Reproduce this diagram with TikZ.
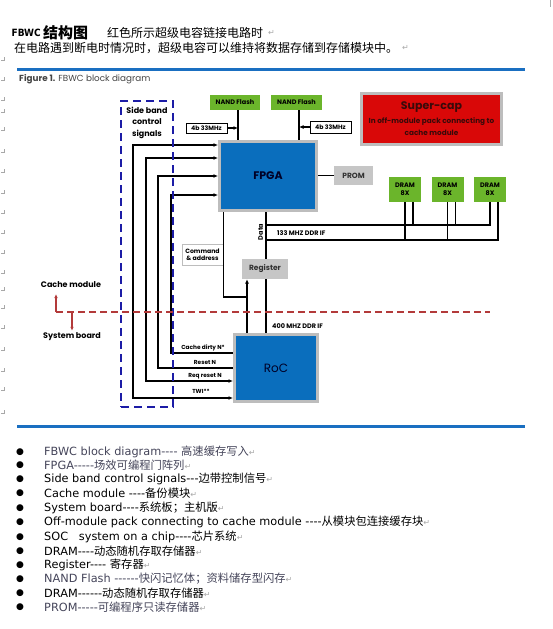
\documentclass[tikz,border=0pt]{standalone}
\usepackage{fontspec}
\setmainfont{DejaVu Sans}
\newfontfamily\cjk{Noto Sans CJK SC}
\newfontfamily\fut{Poppins}
\newfontfamily\dvc{DejaVu Sans Condensed}
\usetikzlibrary{arrows.meta}
\definecolor{ruleblue}{HTML}{1A6FC1}
\definecolor{fpgablue}{HTML}{0A6EBD}
\definecolor{bordergray}{HTML}{BDBDBD}
\definecolor{boxgray}{HTML}{C6C6C6}
\definecolor{nandgreen}{HTML}{6BB52B}
\definecolor{capred}{HTML}{D90808}
\definecolor{sbblue}{HTML}{1C1CA6}
\definecolor{dashred}{HTML}{B33A3A}
\definecolor{listgray}{HTML}{45455A}
\definecolor{markgray}{HTML}{A8A8A8}
\definecolor{captxt}{HTML}{444444}
\definecolor{captext}{HTML}{3A0A0A}
\newcommand\zh[1]{{\cjk #1}}
\newcommand\ret{{\fontsize{8}{8}\selectfont\color{markgray}↵}}
\newcommand\hy{{-}}
\begin{document}
\begin{tikzpicture}[x=1pt,y=-1pt,
  >={Latex[length=4.5pt,width=4pt]},
  lbl/.style={font=\fut\bfseries\fontsize{6.5}{7.5}\selectfont, inner sep=0pt, text=black},
  chip/.style={draw=bordergray, line width=3pt, fill=fpgablue, inner sep=0pt},
  greenbox/.style={fill=nandgreen, inner sep=0pt, align=center, font=\fut\bfseries\fontsize{6.5}{7.5}\selectfont},
  graybox/.style={fill=boxgray, inner sep=0pt, font=\fut\bfseries\fontsize{7.5}{8}\selectfont, text=black!80},
  wbox/.style={draw=black, line width=0.8pt, fill=white, inner sep=0pt, font=\fut\bfseries\fontsize{6.2}{7}\selectfont},
  wire/.style={line width=1.3pt, black},
  sbframe/.style={draw=sbblue, line width=2.4pt, dash pattern=on 8pt off 5pt, inner sep=0pt},
  reddash/.style={draw=dashred, line width=1.6pt, dash pattern=on 7pt off 4pt},
  redarrow/.style={draw=dashred, line width=1.2pt, -{Latex[length=4pt,width=3.5pt]}},
  siglbl/.style={font=\fut\bfseries\fontsize{5.8}{6.5}\selectfont, inner sep=0pt},
  side/.style={font=\fut\bfseries\fontsize{8}{8}\selectfont, inner sep=0pt},
  rulebar/.style={draw=ruleblue, line width=3pt},
  listtxt/.style={anchor=west, inner sep=0pt, font=\fontsize{11.3}{12}\selectfont},
  bul/.style={inner sep=0pt, font=\fontsize{9}{9}\selectfont},
  wmark/.style={draw=markgray, line width=0.6pt}
]
\useasboundingbox[fill=white] (0,0) rectangle (552,629);

% Word paragraph marks on the left
\foreach \yy in {60,80,100,112,130,152,172,193,213,233,253,273,290,308,328,350,371,390,413}
  {\draw[wmark] (4,\yy-3) -- (4,\yy) -- (1,\yy);}
\draw[wmark] (550,0) -- (550,7);

% header
\node[anchor=west, inner sep=0pt, font=\dvc\bfseries\fontsize{10}{10}\selectfont] (h1) at (11.5,33) {FBWC};
\node[anchor=west, inner sep=0pt, font=\cjk\bfseries\fontsize{15}{15}\selectfont] (h2) at (43,33) {结构图};
\node[anchor=west, inner sep=0pt, font=\cjk\fontsize{12}{12}\selectfont] (h3) at (107,33) {红色所示超级电容链接电路时};
\node[anchor=west, inner sep=0pt] (h3r) at (268,33) {\ret};
\node[anchor=west, inner sep=0pt, font=\cjk\fontsize{12}{12}\selectfont] (h4) at (14,48) {在电路遇到断电时情况时，超级电容可以维持将数据存储到存储模块中。};
\node[anchor=west, inner sep=0pt] (h4r) at (402,48) {\ret};

% rules
\coordinate (r1a) at (17,69); \coordinate (r1b) at (525,69);
\coordinate (r2a) at (17,426); \coordinate (r2b) at (525,426);
\draw[rulebar] (r1a) -- (r1b);
\draw[rulebar] (r2a) -- (r2b);

% caption
\node[anchor=west, inner sep=0pt, text=captxt, font=\fut\fontsize{8.8}{9}\selectfont] (capt) at (19,79) {\textbf{Figure 1.} FBWC block diagram};

% blocks
\node[greenbox, minimum width=50pt, minimum height=15pt] (nandL) at (235,102.5) {NAND Flash};
\node[greenbox, minimum width=51pt, minimum height=15pt] (nandR) at (296.5,102.5) {NAND Flash};
\node[chip, minimum width=97pt, minimum height=69pt, font=\fut\bfseries\fontsize{11}{11}\selectfont, text=black!85!blue] (fpga) at (268,176) {FPGA};
\node[graybox, minimum width=39pt, minimum height=19pt] (prom) at (353.5,175.5) {PROM};
\node[draw=bordergray, line width=3pt, fill=capred, inner sep=0pt, minimum width=140pt, minimum height=51pt, align=center, text=captext] (cap) at (431.5,119)
  {{\fut\bfseries\fontsize{11}{12}\selectfont Super-cap}\\[2pt]{\fut\bfseries\fontsize{7.3}{10}\selectfont In off-module pack connecting to}\\{\fut\bfseries\fontsize{7.3}{8}\selectfont cache module}};
\node[greenbox, minimum width=32pt, minimum height=25pt] (dram1) at (405,189.5) {DRAM\\8X};
\node[greenbox, minimum width=32pt, minimum height=25pt] (dram2) at (447.5,189.5) {DRAM\\8X};
\node[greenbox, minimum width=32pt, minimum height=25pt] (dram3) at (490,189.5) {DRAM\\8X};
\node[wbox, minimum width=41pt, minimum height=10pt] (bL) at (206.5,128) {4b 33MHz};
\node[wbox, minimum width=41pt, minimum height=12pt] (bR) at (330.5,127) {4b 33MHz};
\node[draw=bordergray, line width=0.8pt, fill=white, inner sep=0pt, minimum width=41pt, minimum height=21pt, align=center, font=\fut\bfseries\fontsize{6.2}{7.5}\selectfont] (cmd) at (202.5,254.5) {Command\\\& address};
\node[chip, minimum width=83pt, minimum height=67pt, font=\fut\fontsize{12}{12}\selectfont, text=black!85!blue] (roc) at (276,368) {RoC};
\node[graybox, minimum width=46pt, minimum height=20pt] (reg) at (265,269) {Register};

% flash connections
\coordinate (vL) at (238,0);
\coordinate (vR) at (299,0);
\draw[wire] (nandL.south -| vL) -- (fpga.north -| vL);
\draw[wire] (nandR.south -| vR) -- (fpga.north -| vR);
\draw[wire,->] (bL.east) -- (bL.east -| vL);
\draw[wire,->] (bR.west) -- (bR.west -| vR);
\draw[wire] (fpga.east |- prom.west) -- (prom.west);

% data path / DDR bus
\coordinate (xd) at (266,0);
\coordinate (busU) at (266,225);
\coordinate (busL) at (266,240);
\draw[wire] (fpga.south -| xd) -- (reg.north -| xd);
\draw[wire] (reg.south -| xd) -- (roc.north -| xd);
\draw[wire] (busU) -| (dram3.south);
\draw[wire] (busL) -| ([xshift=8pt]dram3.south);
\draw[wire] (dram1.south) -- (dram1.south |- busL);
\draw[wire] ([xshift=8pt]dram1.south) -- ([xshift=8pt]dram1.south |- busU);
\draw[wire] (dram2.south) -- (dram2.south |- busL);
\draw[wire] ([xshift=8pt]dram2.south) -- ([xshift=8pt]dram2.south |- busU);
\node[lbl, rotate=90] (datal) at (260.5,232) {Data};
\node[lbl, anchor=west] (ddr133) at (277,233) {133 MHZ DDR IF};
\node[lbl, anchor=west] (ddr400) at (272,326) {400 MHZ DDR IF};

% command path
\coordinate (jn) at (247,297);
\draw[wire] (fpga.south -| cmd.east) |- (jn);
\draw[wire,->] (roc.north -| jn) -- (reg.south -| jn);

% side band signals
\coordinate (s1) at (133,145); \coordinate (e1) at (133,398);
\coordinate (s2) at (146,158); \coordinate (e2) at (146,381);
\coordinate (s3) at (158,176); \coordinate (e3) at (158,368);
\coordinate (s4) at (171,195); \coordinate (e4) at (171,353);
\draw[wire,<->] (fpga.west |- s1) -- (s1) -- (e1) -- (roc.west |- e1);
\draw[wire,<->] (fpga.west |- s2) -- (s2) -- (e2) -- (roc.west |- e2);
\draw[wire,<-] (fpga.west |- s3) -- (s3) -- (e3) -- (roc.west |- e3);
\draw[wire,<-] (fpga.west |- s4) -- (s4) -- (e4) -- (roc.west |- e4);
\node[siglbl] (l1) at (203,347.5) {Cache dirty N*};
\node[siglbl] (l2) at (205,362.5) {Reset N};
\node[siglbl] (l3) at (205,376) {Req reset N};
\node[siglbl] (l4) at (201,391.5) {TWI**};

% side band frame
\node[sbframe, minimum width=52pt, minimum height=306pt] (sb) at (147,254) {};
\node[side, align=center, font=\fut\bfseries\fontsize{8}{11.5}\selectfont] (sbl) at (147,122.5) {Side band\\control\\signals};

% module boundary
\coordinate (rd0) at (56,312);
\coordinate (rd1) at (490,312);
\draw[reddash] (rd0) -- (rd1);
\node[side] (cm) at (71,285) {Cache module};
\node[side] (sbd) at (72,337) {System board};
\coordinate (upTip) at (56,294);
\draw[redarrow] (rd0) -- (upTip);
\draw[redarrow] (sbd.north |- rd0) -- ([yshift=2pt]sbd.north);

% list
\foreach \yy/\txt/\col in {
  451.7/{FBWC block diagram\hy\hy\hy\hy\ \zh{高速缓存写入}}/listgray,
  465/{FPGA\hy\hy\hy\hy\hy\zh{场效可编程门阵列}}/listgray,
  479.3/{Side band control signals\hy\hy\hy\zh{边带控制信号}}/black,
  493.3/{Cache module \hy\hy\hy\hy\zh{备份模块}}/black,
  507.7/{System board\hy\hy\hy\hy\zh{系统板；主机版}}/black,
  522/{Off-module pack connecting to cache module \hy\hy\hy\hy\zh{从模块包连接缓存块}}/black,
  536.7/{SOC\ \ \ system on a chip\hy\hy\hy\hy\zh{芯片系统}}/black,
  550.7/{DRAM\hy\hy\hy\hy\zh{动态随机存取存储器}}/black,
  565/{Register\hy\hy\hy\hy\ \zh{寄存器}}/black,
  579/{NAND Flash \hy\hy\hy\hy\hy\hy\zh{快闪记忆体；资料储存型闪存}}/listgray,
  593.3/{DRAM\hy\hy\hy\hy\hy\hy\zh{动态随机存取存储器}}/black,
  607.3/{PROM\hy\hy\hy\hy\hy\zh{可编程序只读存储器}}/listgray}
{
  \node[bul] at (20,\yy) {●};
  \node[listtxt, text=\col] at (44,\yy) {\txt\ret};
}
\end{tikzpicture}
\end{document}
